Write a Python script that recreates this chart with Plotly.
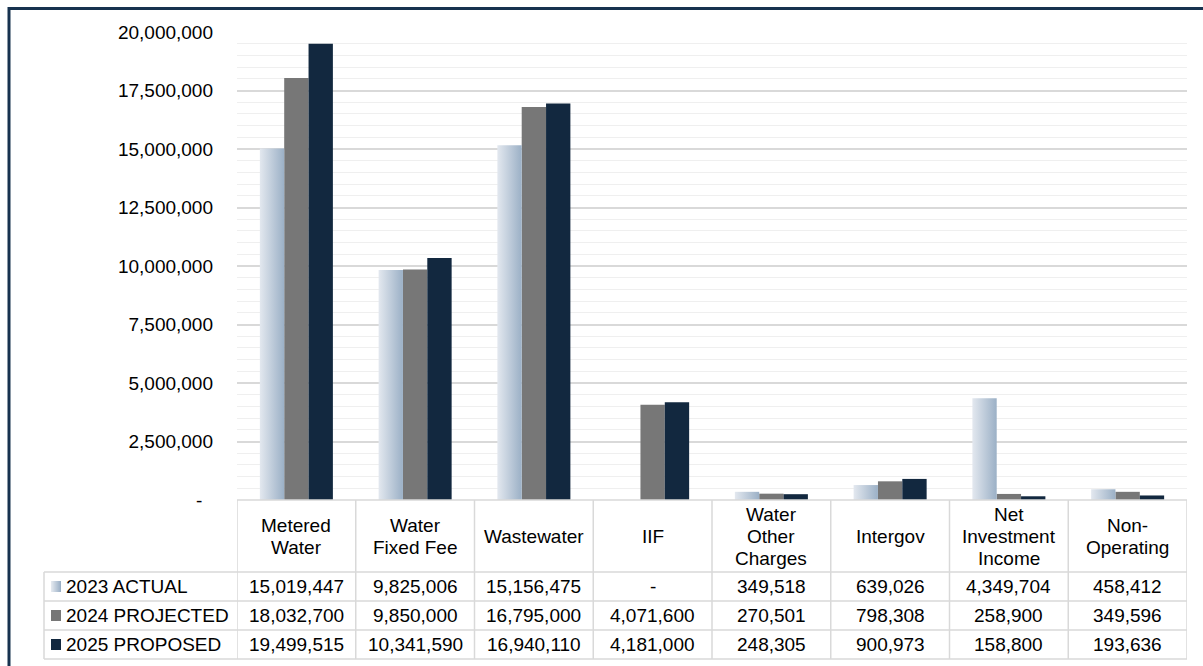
import plotly.graph_objects as go

# ---- data -------------------------------------------------------------
categories = ["Metered Water", "Water Fixed Fee", "Wastewater", "IIF",
              "Water Other Charges", "Intergov", "Net Investment Income",
              "Non-Operating"]
header_lines = [["Metered", "Water"], ["Water", "Fixed Fee"], ["Wastewater"],
                ["IIF"], ["Water", "Other", "Charges"], ["Intergov"],
                ["Net", "Investment", "Income"], ["Non-", "Operating"]]
series_names = ["2023 ACTUAL", "2024 PROJECTED", "2025 PROPOSED"]
actual_2023 = [15019447, 9825006, 15156475, None, 349518, 639026, 4349704, 458412]
projected_2024 = [18032700, 9850000, 16795000, 4071600, 270501, 798308, 258900, 349596]
proposed_2025 = [19499515, 10341590, 16940110, 4181000, 248305, 900973, 158800, 193636]
y_ticks = [0, 2500000, 5000000, 7500000, 10000000, 12500000, 15000000, 17500000, 20000000]

# ---- style ------------------------------------------------------------
FONT = "Liberation Sans, Arial, sans-serif"
C_GRAD = ["#e3e8ef", "#9bb0c6"]
C_2024 = "#777777"
C_2025 = "#12283f"
GRID = "#d9d9d9"
TABLE_LINE = "#d9d9d9"
W, H = 1203, 666
L, R, T, B = 237, 1187, 32, 500          # plot area in pixels
BAR_W = 0.205


def px_x(p):
    return (p - L) / (R - L)


def px_y(p):
    return (B - p) / (B - T)


def fmt(v):
    return "-" if v is None else f"{v:,}"


def tick_fmt(v):
    # accounting style: zero shown as a dash, padded from the right
    return "-\u00a0\u00a0" if v == 0 else f"{v:,}"


fig = go.Figure()
n = len(categories)

# 2023 bars with a horizontal gradient fill
for i, v in enumerate(actual_2023):
    if not v:
        continue
    x0, x1 = i - 1.5 * BAR_W, i - 0.5 * BAR_W
    fig.add_trace(go.Scatter(
        x=[x0, x0, x1, x1, x0], y=[0, v, v, 0, 0],
        mode="lines", line=dict(width=0), fill="toself",
        fillgradient=dict(type="horizontal",
                          colorscale=[[0, C_GRAD[0]], [1, C_GRAD[1]]]),
        showlegend=False, hoverinfo="skip"))

fig.add_trace(go.Bar(x=list(range(n)), y=projected_2024, width=BAR_W,
                     offset=-0.5 * BAR_W, marker=dict(color=C_2024, line=dict(width=0)),
                     name=series_names[1], showlegend=False))
fig.add_trace(go.Bar(x=list(range(n)), y=proposed_2025, width=BAR_W,
                     offset=0.5 * BAR_W, marker=dict(color=C_2025, line=dict(width=0)),
                     name=series_names[2], showlegend=False))

shapes = []
annotations = []

# ---- data table under the plot ---------------------------------------
row_edges = [572, 601, 630, 659]
row_centers = [586.5, 615.5, 644.5]
x_leg = px_x(44)

line = dict(color=TABLE_LINE, width=1.5)
# horizontal lines
shapes.append(dict(type="line", xref="paper", yref="paper", x0=0, x1=1,
                   y0=0, y1=0, line=line))
for e in row_edges:
    shapes.append(dict(type="line", xref="paper", yref="paper", x0=x_leg, x1=1,
                       y0=px_y(e), y1=px_y(e), line=line))
# vertical lines
for k in range(n + 1):
    shapes.append(dict(type="line", xref="x", yref="paper", x0=k - 0.5, x1=k - 0.5,
                       y0=0, y1=px_y(row_edges[-1]), line=line))
shapes.append(dict(type="line", xref="paper", yref="paper", x0=x_leg, x1=x_leg,
                   y0=px_y(row_edges[0]), y1=px_y(row_edges[-1]), line=line))

# column headers
for i, lines in enumerate(header_lines):
    m = len(lines)
    for j, txt in enumerate(lines):
        yc = 536 + (j - (m - 1) / 2) * 22
        annotations.append(dict(xref="x", yref="paper", x=i, y=px_y(yc),
                                text=txt, showarrow=False, xanchor="center",
                                yanchor="middle", font=dict(size=19, color="#000", family=FONT)))

# rows: legend key, label, values
series_values = [actual_2023, projected_2024, proposed_2025]
for r, (name, vals) in enumerate(zip(series_names, series_values)):
    yc = row_centers[r]
    ky0, ky1 = px_y(yc - 5.5), px_y(yc + 5.5)
    if r == 0:
        steps = 10
        for s in range(steps):
            t = s / (steps - 1)
            c0 = [int(C_GRAD[0][k:k + 2], 16) for k in (1, 3, 5)]
            c1 = [int(C_GRAD[1][k:k + 2], 16) for k in (1, 3, 5)]
            c = "rgb(%d,%d,%d)" % tuple(round(a + (b - a) * t) for a, b in zip(c0, c1))
            shapes.append(dict(type="rect", xref="paper", yref="paper",
                               x0=px_x(51 + s), x1=px_x(52 + s), y0=ky1, y1=ky0,
                               fillcolor=c, line=dict(width=0)))
    else:
        shapes.append(dict(type="rect", xref="paper", yref="paper",
                           x0=px_x(51), x1=px_x(61), y0=ky1, y1=ky0,
                           fillcolor=C_2024 if r == 1 else C_2025, line=dict(width=0)))
    annotations.append(dict(xref="paper", yref="paper", x=px_x(64), y=px_y(yc),
                            text=name, showarrow=False, xanchor="left", yanchor="middle",
                            font=dict(size=19, color="#000", family=FONT)))
    for i, v in enumerate(vals):
        annotations.append(dict(xref="x", yref="paper", x=i, y=px_y(yc),
                                text=fmt(v), showarrow=False, xanchor="center",
                                yanchor="middle", font=dict(size=19, color="#000", family=FONT)))

# outer chart frame
shapes.append(dict(type="rect", xref="paper", yref="paper",
                   x0=px_x(9), x1=px_x(1215), y0=px_y(8.5), y1=px_y(690),
                   line=dict(color="#17324f", width=3), fillcolor="rgba(0,0,0,0)"))

fig.update_layout(
    width=W, height=H,
    margin=dict(l=L, r=W - R, t=T, b=H - B, pad=0),
    paper_bgcolor="white", plot_bgcolor="white",
    barmode="overlay", showlegend=False,
    font=dict(family=FONT, color="#000"),
    shapes=shapes, annotations=annotations,
    xaxis=dict(range=[-0.5, n - 0.5], showticklabels=False, showgrid=False,
               zeroline=False, showline=False, fixedrange=True),
    yaxis=dict(range=[0, 20000000], tickvals=y_ticks,
               ticktext=[tick_fmt(v) for v in y_ticks],
               tickfont=dict(size=19, color="#000", family=FONT),
               ticklabelstandoff=23,
               showgrid=True, gridcolor=GRID, gridwidth=1.5,
               minor=dict(dtick=500000, showgrid=True, gridcolor="#efefef", gridwidth=1),
               zeroline=False, showline=False, fixedrange=True),
)

fig.write_html("out.html")
